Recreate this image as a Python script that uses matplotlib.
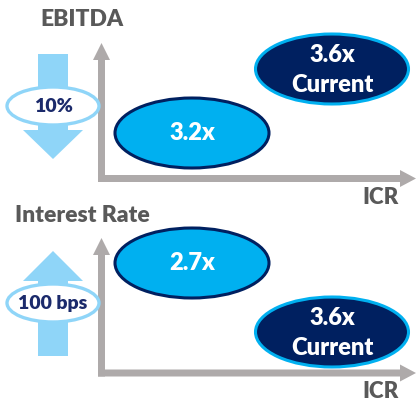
import matplotlib
matplotlib.use("Agg")
import matplotlib.pyplot as plt
from matplotlib.patches import Ellipse, Polygon, FancyArrow

# --- donnees du schema ---
panel_titles = ["EBITDA", "Interest Rate"]
shock_labels = ["10%", "100 bps"]
shock_dirs = ["down", "up"]
stressed = ["3.2x", "2.7x"]
current = ["3.6x\nCurrent", "3.6x\nCurrent"]
axis_label = "ICR"

# couleurs
GRIS = "#aeaaaa"
GRIS_TXT = "#595959"
BLEU_CLAIR = "#8fd5f8"
BLEU = "#00b0f0"
MARINE = "#002060"
FONT = "Lato"
POIDS = "heavy"

fig = plt.figure(figsize=(4.18, 4.04), dpi=100)
ax = fig.add_axes([0, 0, 1, 1])
ax.set_xlim(0, 418)
ax.set_ylim(404, 0)
ax.axis("off")

# position verticale de chaque panneau (en pixels)
offsets = [0, 195]
current_y = [69, 332]
stressed_y = [133, 263]
shock_y = [106, 303]

for i, off in enumerate(offsets):
    # titre du panneau
    ax.text(82, 19 + off + (2 if i else 0), panel_titles[i], ha="center", va="center",
            fontsize=16.5, fontweight=POIDS, color=GRIS_TXT, family=FONT)

    # axes en fleches grises
    cy = 178.5 + off - (0 if i == 0 else 0.5)
    top = 43 if i == 0 else 238
    ax.add_patch(FancyArrow(101.5, cy + 3.5, 0, top - cy - 3.5, width=7, head_width=17,
                            head_length=17, length_includes_head=True, color=GRIS, lw=0))
    ax.add_patch(FancyArrow(98, cy, 416 - 98, 0, width=7, head_width=17,
                            head_length=16, length_includes_head=True, color=GRIS, lw=0))
    ax.text(381, cy + 19, axis_label, ha="center", va="center",
            fontsize=16, fontweight=POIDS, color=GRIS_TXT, family=FONT)

    # fleche de choc (bloc bleu clair)
    if shock_dirs[i] == "down":
        pts = [(38, 54), (68, 54), (68, 130), (83, 130), (53, 159), (23, 130), (38, 130)]
    else:
        pts = [(38, 356), (68, 356), (68, 281), (83, 281), (53, 251), (23, 281), (38, 281)]
    ax.add_patch(Polygon(pts, closed=True, color=BLEU_CLAIR, lw=0))
    ax.add_patch(Ellipse((53, shock_y[i]), 92, 38, facecolor="white",
                         edgecolor=BLEU_CLAIR, lw=2.4))
    ax.text(53, shock_y[i] + 1, shock_labels[i], ha="center", va="center",
            fontsize=14, fontweight=POIDS, color="#1b2a6b", family=FONT)

    # scenario stresse
    ax.add_patch(Ellipse((192, stressed_y[i]), 154, 70, facecolor=BLEU,
                         edgecolor=MARINE, lw=2.2))
    ax.text(192, stressed_y[i], stressed[i], ha="center", va="center",
            fontsize=17, fontweight=POIDS, color="white", family=FONT)

    # situation actuelle (une ligne par texte)
    ax.add_patch(Ellipse((332, current_y[i]), 153, 70, facecolor=MARINE,
                         edgecolor=BLEU, lw=2.2))
    for k, ligne in enumerate(current[i].split("\n")):
        ax.text(332, current_y[i] - 14 + 30 * k, ligne, ha="center", va="center",
                fontsize=17, fontweight=POIDS, color="white", family=FONT)

fig.savefig("out.png", dpi=100)
